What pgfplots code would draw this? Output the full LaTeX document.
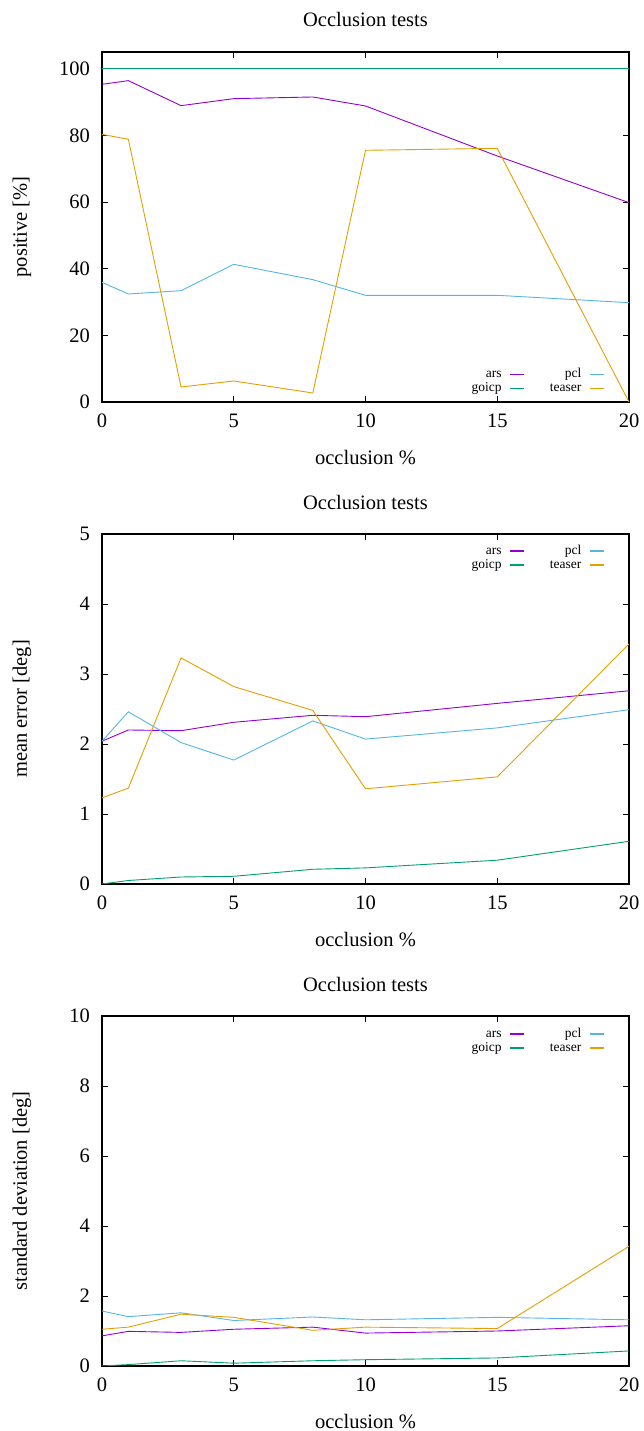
\documentclass[border=0pt]{standalone}
\usepackage{fontspec}
\setmainfont{Liberation Serif}
\usepackage{pgfplots}
\pgfplotsset{compat=1.18}
\definecolor{cars}{HTML}{9400D3}
\definecolor{cgoicp}{HTML}{009E73}
\definecolor{cpcl}{HTML}{56B4E9}
\definecolor{cteaser}{HTML}{E69F00}
\pgfplotsset{
  occ/.style={
    scale only axis, width=527pt, height=350pt,
    xmin=0, xmax=20, xtick={0,5,10,15,20},
    /pgf/number format/assume math mode=true,
    tick label style={font=\fontsize{20.5}{24}\selectfont},
    label style={font=\fontsize{20.5}{24}\selectfont},
    title style={font=\fontsize{20.5}{24}\selectfont, at={(axis description cs:0.5,1)}, anchor=center, yshift=26pt},
    xlabel style={at={(axis description cs:0.5,0)}, anchor=center, yshift=-56pt},
    ylabel style={at={(axis description cs:-0.152,0.5)}, anchor=center},
    yticklabel style={inner sep=0pt, xshift=-12pt},
    xticklabel style={inner sep=0pt, yshift=-12pt},
    axis line style={line width=1.2pt},
    major tick length=6pt, tick align=inside,
    every tick/.style={black, line width=0.9pt},
    minor tick num=0,
    title={Occlusion tests}, xlabel={occlusion \%},
    legend columns=2, legend cell align=right, legend plot pos=right,
    legend image code/.code={\draw[#1, line width=1.4pt] (0pt,0pt) -- (14pt,0pt);},
    legend style={draw=none, fill=none, inner sep=0pt, font=\fontsize{13.5}{14}\selectfont,
      nodes={inner sep=0pt, text height=9pt, text depth=3pt},
      row sep=2pt,
      /tikz/every odd column/.append style={column sep=8pt},
      /tikz/every even column/.append style={column sep=25pt}},
    every axis plot/.append style={line width=0.9pt},
  }
}
\begin{document}
\begin{tikzpicture}
\begin{axis}[occ, at={(102pt,1029pt)}, anchor=south west,
  ymin=0, ymax=105, ytick={0,20,40,60,80,100}, ylabel={positive [\%]},
  legend style={at={(axis description cs:1,0)}, anchor=south east, xshift=-24pt, yshift=7pt}]
\addplot[cars] coordinates {(0,95.3) (1,96.4) (3,88.9) (5,91.0) (8,91.5) (10,88.8) (15,73.8) (20,59.8)};
\addlegendentry{ars}
\addplot[cpcl] coordinates {(0,35.9) (1,32.4) (3,33.4) (5,41.3) (8,36.7) (10,32.0) (15,32.0) (20,29.8)};
\addlegendentry{pcl}
\addplot[cgoicp] coordinates {(0,100) (1,100) (3,100) (5,100) (8,100) (10,100) (15,100) (20,100)};
\addlegendentry{goicp}
\addplot[cteaser] coordinates {(0,80.3) (1,78.8) (3,4.5) (5,6.3) (8,2.7) (10,75.5) (15,76.1) (20,0.0)};
\addlegendentry{teaser}
\end{axis}
\begin{axis}[occ, at={(102pt,547pt)}, anchor=south west,
  ymin=0, ymax=5, ytick={0,1,2,3,4,5}, ylabel={mean error [deg]},
  legend style={at={(axis description cs:1,1)}, anchor=north east, xshift=-24pt, yshift=-11pt}]
\addplot[cars] coordinates {(0,2.04) (1,2.20) (3,2.19) (5,2.31) (8,2.41) (10,2.39) (15,2.58) (20,2.76)};
\addlegendentry{ars}
\addplot[cpcl] coordinates {(0,2.04) (1,2.46) (3,2.02) (5,1.77) (8,2.33) (10,2.07) (15,2.23) (20,2.49)};
\addlegendentry{pcl}
\addplot[cgoicp] coordinates {(0,0.00) (1,0.05) (3,0.10) (5,0.11) (8,0.21) (10,0.23) (15,0.34) (20,0.61)};
\addlegendentry{goicp}
\addplot[cteaser] coordinates {(0,1.23) (1,1.37) (3,3.23) (5,2.82) (8,2.48) (10,1.36) (15,1.53) (20,3.43)};
\addlegendentry{teaser}
\end{axis}
\begin{axis}[occ, at={(102pt,65pt)}, anchor=south west,
  ymin=0, ymax=10, ytick={0,2,4,6,8,10}, ylabel={standard deviation [deg]},
  legend style={at={(axis description cs:1,1)}, anchor=north east, xshift=-24pt, yshift=-12pt}]
\addplot[cars] coordinates {(0,0.86) (1,0.99) (3,0.96) (5,1.05) (8,1.11) (10,0.94) (15,1.00) (20,1.15)};
\addlegendentry{ars}
\addplot[cpcl] coordinates {(0,1.57) (1,1.41) (3,1.52) (5,1.30) (8,1.40) (10,1.32) (15,1.39) (20,1.32)};
\addlegendentry{pcl}
\addplot[cgoicp] coordinates {(0,0.00) (1,0.04) (3,0.15) (5,0.08) (8,0.15) (10,0.18) (15,0.23) (20,0.43)};
\addlegendentry{goicp}
\addplot[cteaser] coordinates {(0,1.05) (1,1.11) (3,1.48) (5,1.39) (8,1.02) (10,1.11) (15,1.07) (20,3.42)};
\addlegendentry{teaser}
\end{axis}
\pgfresetboundingbox
\path[use as bounding box] (0pt,0pt) rectangle (644pt,1431pt);
\end{tikzpicture}
\end{document}
